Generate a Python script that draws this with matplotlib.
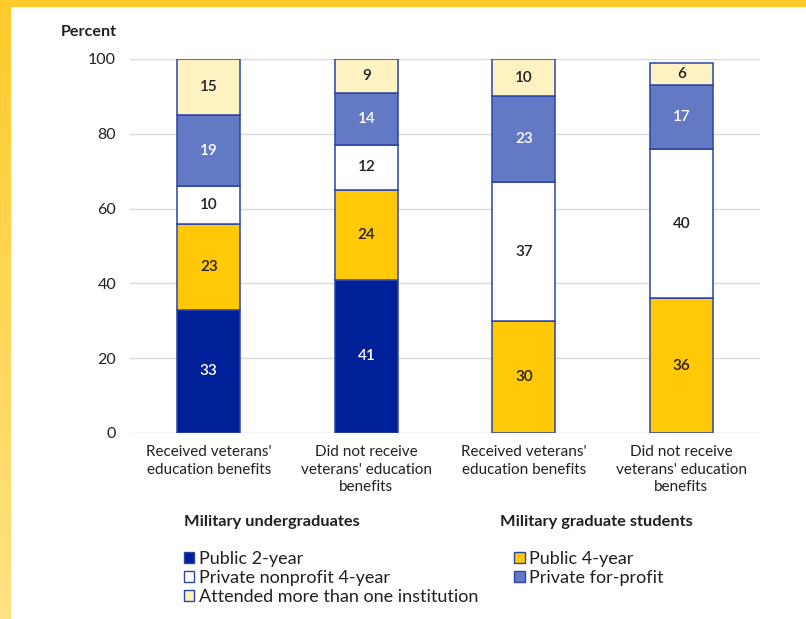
import numpy as np
import matplotlib
matplotlib.use("Agg")
import matplotlib.pyplot as plt
from matplotlib.patches import Patch, Rectangle
from matplotlib.colors import LinearSegmentedColormap

plt.rcParams['font.family'] = ['Lato', 'DejaVu Sans']

categories = [
    "Received veterans'\neducation benefits",
    "Did not receive\nveterans' education\nbenefits",
    "Received veterans'\neducation benefits",
    "Did not receive\nveterans' education\nbenefits",
]
groups = ["Military undergraduates", "Military graduate students"]

series = ["Public 2-year", "Public 4-year", "Private nonprofit 4-year",
          "Private for-profit", "Attended more than one institution"]
public_2yr = [33, 41, 0, 0]
public_4yr = [23, 24, 30, 36]
private_nonprofit = [10, 12, 37, 40]
private_forprofit = [19, 14, 23, 17]
multi_inst = [15, 9, 10, 6]

values = [public_2yr, public_4yr, private_nonprofit, private_forprofit, multi_inst]
colors = ["#00209A", "#FFC907", "#FFFFFF", "#6479C4", "#FFF2C2"]
label_colors = ["white", "#231F20", "#231F20", "white", "#231F20"]
edge = "#2A44A8"
text_c = "#231F20"

W, H = 806, 619
fig = plt.figure(figsize=(W / 100, H / 100), dpi=100)

# yellow frame along the top and left edges
fig.patches.append(Rectangle((0, 1 - 6 / H), 1, 6 / H, transform=fig.transFigure,
                             color="#FFCB2B", zorder=0))
band = fig.add_axes([0, 0, 11 / W, 1 - 6 / H])
cmap = LinearSegmentedColormap.from_list("band", ["#FFE283", "#FFCB2B"])
band.imshow(np.linspace(0, 1, 200).reshape(-1, 1)[::-1], aspect="auto", cmap=cmap)
band.axis("off")

ax = fig.add_axes([130 / W, 1 - 433 / H, 630 / W, 374 / H])
x = np.arange(len(categories))
bottom = np.zeros(len(categories))
for vals, col, lc in zip(values, colors, label_colors):
    vals = np.array(vals, dtype=float)
    ax.bar(x, vals, 0.4, bottom=bottom, color=col, edgecolor=edge, linewidth=1.1, zorder=3)
    for xi, b, v in zip(x, bottom, vals):
        if v > 0:
            ax.text(xi, b + v / 2, f"{v:.0f}", ha="center", va="center",
                    fontsize=11, fontweight="semibold", color=lc, zorder=4)
    bottom += vals

ax.set_xlim(-0.5, 3.5)
ax.set_ylim(0, 100)
ax.set_yticks([0, 20, 40, 60, 80, 100])
ax.set_xticks(x)
ax.set_xticklabels(categories, fontsize=11, color=text_c, linespacing=1.3)
ax.tick_params(axis="y", length=0, pad=10, labelsize=11.5, labelcolor=text_c)
ax.tick_params(axis="x", length=0, pad=9)
ax.yaxis.grid(True, color="#D9D9D9", linewidth=1, zorder=0)
ax.set_axisbelow(True)
for s in ax.spines.values():
    s.set_visible(False)

fig.text(117 / W, 1 - 32 / H, "Percent", ha="right", va="center",
         fontsize=11.6, fontweight="bold", color=text_c)
fig.text(272 / W, 1 - 522 / H, groups[0], ha="center", va="center",
         fontsize=11.8, fontweight="bold", color=text_c)
fig.text(596 / W, 1 - 522 / H, groups[1], ha="center", va="center",
         fontsize=11.8, fontweight="bold", color=text_c)

order = [0, 2, 4, 1, 3]
handles = [Patch(facecolor=colors[i], edgecolor=edge, linewidth=1) for i in order]
labels = [series[i] for i in order]
fig.legend(handles, labels, ncol=2, loc="upper left",
           bbox_to_anchor=(184 / W, 1 - 551 / H), frameon=False, fontsize=13,
           borderpad=0, borderaxespad=0,
           handlelength=0.58, handleheight=0.58, handletextpad=0.25,
           labelspacing=0.16, columnspacing=2.0, labelcolor=text_c)

fig.savefig("out.png", dpi=100)
